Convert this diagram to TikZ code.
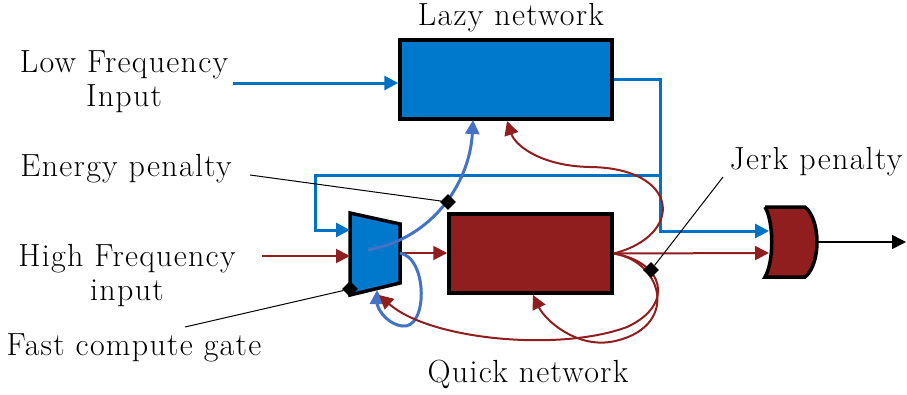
\documentclass[tikz,border=0pt]{standalone}
\usepackage{fontspec}
\setmainfont{Latin Modern Roman}[LetterSpace=4.0]
\usetikzlibrary{arrows.meta}
\definecolor{lazyblue}{RGB}{0,120,204}
\definecolor{wireblue}{RGB}{0,114,198}
\definecolor{loopblue}{RGB}{68,114,196}
\definecolor{quickred}{RGB}{145,30,30}
\begin{document}
\begin{tikzpicture}[x=1pt,y=-1pt]
\tikzstyle{every node}=[font=\fontsize{32}{34}\selectfont]
\tikzstyle{net}=[draw=black,line width=3.5pt,inner sep=0pt,line join=miter]
\tikzstyle{lbl}=[align=center,inner sep=0pt]
\tikzstyle{penaltydot}=[fill=black,rectangle,rotate=45,minimum size=11pt,inner sep=0pt]
\tikzstyle{tip}=[-{Triangle[length=14pt,width=14pt]}]
\tikzstyle{bwire}=[wireblue,line width=3pt,tip]
\tikzstyle{lwire}=[loopblue,line width=3pt,tip]
\tikzstyle{rwire}=[quickred,line width=2pt,tip]
\tikzstyle{pointer}=[black,line width=1pt]
\useasboundingbox (0,0) rectangle (907,394);

% networks
\node[net,fill=lazyblue,minimum width=212pt,minimum height=79pt] (lazy) at (506,79.5) {};
\node[net,fill=quickred,minimum width=163pt,minimum height=79pt] (quick) at (530.5,253.5) {};
\node[lbl] (lazylbl) at (511,18) {Lazy network};
\node[lbl] (quicklbl) at (528,374) {Quick network};

% gate
\draw[net,fill=lazyblue] (350,213) -- (400,224) -- (400,283) -- (350,295) -- cycle;
\coordinate (gin1) at (350,230);
\coordinate (gin2) at (350,256);
\coordinate (gout) at (400,253);
\coordinate (gmid) at (368,250);
\coordinate (gbot) at (377,290);
\coordinate (gbot2) at (379,295);

% output gate
\draw[net,fill=quickred] (765,207) -- (805,207) .. controls (821,220) and (821,264) .. (805,277)
  -- (765,277) .. controls (774,262) and (774,222) .. (765,207);
\coordinate (or1) at (769,231);
\coordinate (or2) at (769,253);
\coordinate (orout) at (818,242);
\coordinate (outend) at (906,242);

% inputs
\node[lbl] (lowin) at (124,82) {Low Frequency\\Input};
\node[lbl] (highin) at (127,276) {High Frequency\\input};
\coordinate (lowstart) at (233,83);
\coordinate (highstart) at (262,256);
\draw[bwire] (lowstart) -- (lazy.west |- lowstart);
\draw[rwire] (highstart) -- (gin2);

% blue wires
\coordinate (jn) at (660,175);
\coordinate (fb) at (315,175);
\draw[bwire] (lazy.east) -| (jn) |- (or1);
\draw[bwire] (jn) -- (fb) |- (gin1);

% red wires
\draw[rwire] (gout) -- (quick.west |- gout);
\draw[rwire] (quick.east) -- (or2);
\draw[black,line width=1.5pt,tip] (orout) -- (outend);

% feedback
\coordinate (lzb1) at (473,120);
\coordinate (lzb2) at (507,121);
\coordinate (qkb) at (533,295);
\draw[lwire] (gmid) .. controls (435,238) and (470,180) .. (lzb1);
\draw[lwire] (gout) .. controls (428,258) and (428,330) .. (402,326) .. controls (384,323) and (377,306) .. (gbot);
\draw[rwire] (quick.east) .. controls (685,235) and (680,168) .. (590,167) .. controls (540,166) and (515,145) .. (lzb2);
\draw[rwire] (quick.east) .. controls (665,262) and (675,305) .. (627,327) .. controls (560,352) and (430,340) .. (gbot2);
\draw[rwire] (quick.east) .. controls (665,262) and (680,330) .. (610,342) .. controls (575,347) and (545,320) .. (qkb);

% penalties
\node[penaltydot] (energy) at (448,202) {};
\node[penaltydot] (fastgate) at (350,289) {};
\node[penaltydot] (jerk) at (651,270) {};
\node[lbl] (energylbl) at (126,169) {Energy penalty};
\node[lbl] (fastlbl) at (134,348) {Fast compute gate};
\node[lbl] (jerklbl) at (816,162) {Jerk penalty};
\coordinate (energyend) at (250,175);
\coordinate (fastend) at (185,327);
\coordinate (jerkend) at (723,177);
\draw[pointer] (energyend) -- (energy);
\draw[pointer] (fastend) -- (fastgate);
\draw[pointer] (jerkend) -- (jerk);
\end{tikzpicture}
\end{document}
